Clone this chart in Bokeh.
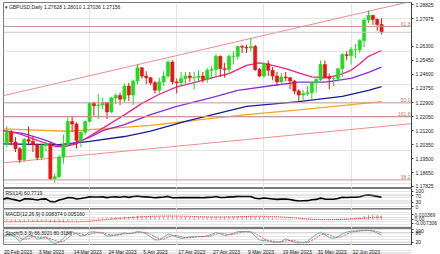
from bokeh.plotting import figure
from bokeh.layouts import column
from bokeh.models import (ColumnDataSource, LinearAxis, FixedTicker, Range1d, Label, Span,
                          NumeralTickFormatter)
from bokeh.core.properties import value
from bokeh.embed import file_html
from bokeh.resources import INLINE

FONT = "Liberation Sans"
FS = "5px"

# ---------------- data ----------------
open_ = [1.2030, 1.2040, 1.2110, 1.2050, 1.2010, 1.1943, 1.2066, 1.2055, 1.2035, 1.1955,
         1.2030, 1.2040, 1.1828, 1.1840, 1.1960, 1.2035, 1.2175, 1.2160, 1.2060, 1.2110,
         1.2175, 1.2285, 1.2270, 1.2275, 1.2290, 1.2233, 1.2318, 1.2333, 1.2310, 1.2390,
         1.2335, 1.2420, 1.2500, 1.2450, 1.2440, 1.2410, 1.2365, 1.2415, 1.2450, 1.2535,
         1.2415, 1.2410, 1.2435, 1.2450, 1.2440, 1.2442, 1.2450, 1.2430, 1.2485, 1.2490,
         1.2570, 1.2495, 1.2490, 1.2570, 1.2570, 1.2630, 1.2625, 1.2620, 1.2630, 1.2490,
         1.2450, 1.2525, 1.2485, 1.2450, 1.2415, 1.2445, 1.2440, 1.2420, 1.2360, 1.2335,
         1.2345, 1.2350, 1.2410, 1.2430, 1.2520, 1.2445, 1.2435, 1.2435, 1.2495, 1.2580,
         1.2575, 1.2610, 1.2610, 1.2665, 1.2790, 1.2818, 1.2793, 1.27628]
high = [1.2060, 1.2148, 1.2125, 1.2080, 1.2020, 1.2075, 1.2145, 1.2085, 1.2040, 1.2040,
        1.2055, 1.2045, 1.1860, 1.1970, 1.2095, 1.2200, 1.2205, 1.2170, 1.2115, 1.2180,
        1.2290, 1.2295, 1.2343, 1.2320, 1.2295, 1.2325, 1.2345, 1.2350, 1.2405, 1.2410,
        1.2430, 1.2525, 1.2505, 1.2480, 1.2445, 1.2420, 1.2440, 1.2480, 1.2545, 1.2545,
        1.2435, 1.2475, 1.2475, 1.2475, 1.2475, 1.2485, 1.2475, 1.2500, 1.2510, 1.2585,
        1.2575, 1.2530, 1.2580, 1.2600, 1.2635, 1.2640, 1.2640, 1.2680, 1.2640, 1.2500,
        1.2535, 1.2545, 1.2505, 1.2475, 1.2470, 1.2475, 1.2445, 1.2425, 1.2370, 1.2365,
        1.2390, 1.2410, 1.2445, 1.2545, 1.2545, 1.2465, 1.2445, 1.2490, 1.2590, 1.2600,
        1.2625, 1.2645, 1.2675, 1.2800, 1.2848, 1.2820, 1.2800, 1.28010]
low = [1.1995, 1.2018, 1.2030, 1.1990, 1.1923, 1.1930, 1.2030, 1.1990, 1.1940, 1.1940,
       1.1995, 1.1820, 1.1803, 1.1830, 1.1920, 1.2025, 1.2110, 1.2010, 1.2020, 1.2095,
       1.2170, 1.2210, 1.2190, 1.2250, 1.2190, 1.2225, 1.2280, 1.2275, 1.2290, 1.2300,
       1.2275, 1.2400, 1.2435, 1.2400, 1.2395, 1.2345, 1.2345, 1.2390, 1.2440, 1.2400,
       1.2345, 1.2395, 1.2395, 1.2415, 1.2368, 1.2415, 1.2410, 1.2410, 1.2430, 1.2445,
       1.2445, 1.2440, 1.2470, 1.2520, 1.2550, 1.2590, 1.2590, 1.2600, 1.2480, 1.2445,
       1.2440, 1.2450, 1.2425, 1.2390, 1.2410, 1.2420, 1.2370, 1.2340, 1.2300, 1.2300,
       1.2330, 1.2310, 1.2350, 1.2420, 1.2435, 1.2370, 1.2390, 1.2415, 1.2445, 1.2545,
       1.2520, 1.2560, 1.2590, 1.2625, 1.2770, 1.2760, 1.2725, 1.27036]
close = [1.2040, 1.2110, 1.2050, 1.2010, 1.1943, 1.2066, 1.2055, 1.2035, 1.1955, 1.2030,
         1.2040, 1.1828, 1.1840, 1.1960, 1.2035, 1.2175, 1.2160, 1.2060, 1.2110, 1.2175,
         1.2285, 1.2270, 1.2275, 1.2290, 1.2233, 1.2318, 1.2333, 1.2310, 1.2390, 1.2335,
         1.2420, 1.2500, 1.2450, 1.2440, 1.2410, 1.2365, 1.2415, 1.2450, 1.2535, 1.2415,
         1.2410, 1.2435, 1.2450, 1.2440, 1.2442, 1.2450, 1.2430, 1.2485, 1.2490, 1.2570,
         1.2495, 1.2490, 1.2570, 1.2570, 1.2630, 1.2625, 1.2620, 1.2630, 1.2490, 1.2450,
         1.2525, 1.2485, 1.2450, 1.2415, 1.2445, 1.2440, 1.2420, 1.2360, 1.2335, 1.2345,
         1.2350, 1.2410, 1.2430, 1.2520, 1.2445, 1.2435, 1.2435, 1.2495, 1.2580, 1.2575,
         1.2610, 1.2610, 1.2665, 1.2790, 1.2818, 1.2793, 1.2763, 1.27156]
n = len(close)
idx = list(range(n))

# moving averages (bar index, price)
ma_pink_x = [0, 4, 8, 12, 14, 17, 20, 24, 28, 32, 36, 40, 44, 48, 52, 56, 59, 62, 65, 68, 71, 74, 77, 80, 82, 84, 87]
ma_pink_y = [1.2122, 1.2100, 1.2060, 1.2025, 1.2022, 1.2040, 1.2085, 1.2150, 1.2215, 1.2285, 1.2340, 1.2385,
             1.2410, 1.2440, 1.2465, 1.2515, 1.2530, 1.2515, 1.2495, 1.2470, 1.2445, 1.2440, 1.2455, 1.2485,
             1.2525, 1.2570, 1.2605]
ma_purple_x = [0, 5, 10, 13, 16, 20, 23, 28, 34, 40, 48, 54, 62, 68, 74, 80, 84, 87]
ma_purple_y = [1.2120, 1.2102, 1.2060, 1.2029, 1.2041, 1.2078, 1.2120, 1.2156, 1.2217, 1.2266, 1.2320,
               1.2363, 1.2393, 1.2413, 1.2414, 1.2436, 1.2472, 1.2504]
ma_blue_x = [0, 13, 20, 28, 34, 42, 56, 68, 78, 84, 87]
ma_blue_y = [1.2040, 1.2034, 1.2054, 1.2084, 1.2116, 1.2175, 1.2266, 1.2296, 1.2327, 1.2363, 1.2387]
ma_orange_x = [0, 15, 34, 42, 45, 56, 68, 87]
ma_orange_y = [1.2131, 1.2116, 1.2151, 1.2175, 1.2185, 1.2217, 1.2246, 1.2296]

# channel (trend) lines, end points (bar index, price)
trend_up_x = [0, 93]
trend_up_y = [1.2330, 1.2898]
trend_lo_x = [0, 94]
trend_lo_y = [1.1924, 1.2162]

# fibonacci levels
fib_values = [1.2751, 1.2288, 1.2205, 1.1821]
fib_labels = ["61.8", "50.0", "161.8", "38.2"]

price_ticks = [1.28825, 1.27975, 1.26300, 1.25450, 1.24600, 1.23750, 1.22900, 1.22050,
               1.21200, 1.20350, 1.19500, 1.18650, 1.17825]

rsi = [46, 55, 49, 44, 37, 50, 50, 48, 43, 49,
       50, 33, 31, 43, 49, 58, 57, 50, 53, 57,
       63, 62, 62, 63, 58, 62, 63, 61, 65, 60,
       65, 69, 64, 63, 61, 57, 60, 62, 66, 57,
       57, 58, 59, 58, 58, 59, 57, 60, 61, 65,
       59, 59, 63, 63, 66, 65, 65, 65, 54, 51,
       56, 53, 50, 47, 49, 49, 46, 41, 37, 38,
       39, 45, 47, 55, 49, 48, 48, 53, 60, 59,
       61, 61, 64, 72, 75, 71, 66, 60.77]
rsi_levels = [70, 30]

macd = [-0.0052, -0.0044, -0.0042, -0.0043, -0.0050, -0.0041, -0.0035, -0.0033, -0.0038, -0.0035,
        -0.0032, -0.0055, -0.0073, -0.0068, -0.0058, -0.0040, -0.0028, -0.0025, -0.0018, -0.0008,
        0.0008, 0.0019, 0.0028, 0.0036, 0.0038, 0.0045, 0.0051, 0.0053, 0.0060, 0.0061,
        0.0067, 0.0077, 0.0079, 0.0079, 0.0076, 0.0070, 0.0068, 0.0068, 0.0074, 0.0068,
        0.0063, 0.0060, 0.0058, 0.0055, 0.0053, 0.0051, 0.0048, 0.0050, 0.0051, 0.0058,
        0.0057, 0.0055, 0.0060, 0.0063, 0.0070, 0.0074, 0.0076, 0.0078, 0.0068, 0.0057,
        0.0053, 0.0046, 0.0037, 0.0028, 0.0023, 0.0018, 0.0012, 0.0003, -0.0005, -0.0010,
        -0.0013, -0.0011, -0.0007, 0.0003, 0.0004, 0.0004, 0.0004, 0.0009, 0.0019, 0.0026,
        0.0033, 0.0038, 0.0046, 0.0075, 0.0094, 0.010369, 0.0097, 0.008374]
macd_signal = [-0.0050, -0.0050, -0.0049, -0.0048, -0.0048, -0.0047, -0.0045, -0.0043, -0.0041, -0.0040,
               -0.0038, -0.0039, -0.0042, -0.0046, -0.0048, -0.0049, -0.0049, -0.0048, -0.0046, -0.0041,
               -0.0034, -0.0026, -0.0017, -0.0008, 0.0000, 0.0009, 0.0017, 0.0025, 0.0032, 0.0039,
               0.0045, 0.0052, 0.0057, 0.0062, 0.0066, 0.0069, 0.0070, 0.0071, 0.0072, 0.0072,
               0.0071, 0.0069, 0.0067, 0.0065, 0.0063, 0.0061, 0.0058, 0.0056, 0.0054, 0.0054,
               0.0054, 0.0054, 0.0055, 0.0056, 0.0058, 0.0060, 0.0062, 0.0065, 0.0067, 0.0067,
               0.0066, 0.0064, 0.0061, 0.0057, 0.0053, 0.0047, 0.0041, 0.0034, 0.0026, 0.0018,
               0.0011, 0.0005, 0.0001, -0.0002, -0.0003, -0.0003, -0.0002, 0.0000, 0.0003, 0.0007,
               0.0011, 0.0016, 0.0021, 0.0027, 0.0035, 0.0043, 0.0048, 0.00516]
macd_ticks = [0.010369, 0.0, -0.007306]
macd_tick_labels = ["0.010369", "0.00", "-0.007306"]

stoch_k = [55, 70, 68, 50, 25, 45, 60, 62, 40, 45,
           55, 30, 12, 20, 45, 75, 88, 75, 60, 65,
           85, 88, 82, 78, 60, 62, 70, 72, 80, 75,
           80, 90, 85, 75, 55, 35, 35, 50, 72, 65,
           55, 45, 48, 55, 55, 58, 55, 62, 70, 85,
           75, 62, 70, 78, 88, 90, 88, 85, 60, 35,
           30, 28, 22, 18, 25, 42, 30, 20, 15, 18,
           25, 50, 70, 85, 70, 50, 45, 55, 75, 85,
           92, 92, 95, 97, 97, 92, 80, 66.3021]
stoch_d = [58, 62, 64, 63, 48, 40, 43, 56, 54, 49,
           47, 43, 32, 21, 26, 47, 69, 79, 74, 67,
           70, 79, 85, 83, 73, 67, 64, 68, 74, 76,
           78, 82, 85, 83, 72, 55, 42, 40, 52, 62,
           64, 55, 49, 49, 53, 56, 56, 58, 62, 72,
           77, 74, 69, 70, 79, 85, 89, 88, 78, 60,
           42, 31, 27, 23, 22, 28, 32, 31, 22, 18,
           19, 31, 48, 68, 75, 68, 55, 50, 58, 72,
           84, 90, 93, 95, 96, 95, 90, 80.3189]
stoch_levels = [80, 20]

date_tick_idx = [0, 8, 16, 24, 32, 40, 48, 56, 64, 72, 80]
date_tick_labels = ["20 Feb 2023", "3 Mar 2023", "14 Mar 2023", "24 Mar 2023", "5 Apr 2023",
                    "17 Apr 2023", "27 Apr 2023", "9 May 2023", "19 May 2023", "31 May 2023",
                    "12 Jun 2023"]

title_text = "\u25BE GBPUSD,Daily 1.27628 1.28010 1.27036 1.27156"
rsi_text = "RSI(14) 60.7719"
macd_text = "MACD(12,26,9) 0.008374 0.005160"
stoch_text = "Stoch(5,3,3) 66.3021 80.3189"

# ---------------- styling ----------------
BULL = "#1EDC1E"
BEAR = "#EA1414"
AXC = "#404040"

xr = Range1d(0.25, 93.87)


def base_fig(height, yr, top, bottom, outline="#7A7A7A"):
    p = figure(width=440, height=height, x_range=xr, y_range=Range1d(*yr),
               output_backend="svg", toolbar_location=None,
               x_axis_location=None, y_axis_location=None,
               min_border_left=3, min_border_right=26,
               min_border_top=top, min_border_bottom=bottom,
               background_fill_color="white", border_fill_color="white")
    p.outline_line_color = outline
    p.outline_line_width = 1
    return p


def right_axis(p, ticks, formatter=None, overrides=None, standoff=2):
    ax = LinearAxis(ticker=FixedTicker(ticks=ticks),
                    major_label_text_font=FONT, major_label_text_font_size=FS,
                    major_label_text_color="#202020",
                    major_tick_out=2, major_tick_in=0, minor_tick_out=0, minor_tick_in=0,
                    major_label_standoff=standoff, axis_line_color=AXC,
                    major_tick_line_color=AXC)
    if formatter is not None:
        ax.formatter = formatter
    if overrides is not None:
        ax.major_label_overrides = overrides
    p.add_layout(ax, "right")
    return ax


def panel_label(p, text, yr_end):
    p.add_layout(Label(x=xr.start, y=yr_end, x_offset=2, y_offset=-1.5, text=text,
                       text_font=FONT, text_font_size=FS, text_color="#202020",
                       text_align="left", text_baseline="top"))


# ---------------- main price panel ----------------
main_yr = (1.1769, 1.2896)
pm = base_fig(188, main_yr, 2, 0)
right_axis(pm, price_ticks, formatter=NumeralTickFormatter(format="0.00000"))

for lvl, txt in zip(fib_values, fib_labels):
    pm.add_layout(Span(location=lvl, dimension="width", line_color="#C89494", line_width=1))
    pm.add_layout(Label(x=xr.end, y=lvl, x_offset=-1, y_offset=0.5, text=txt,
                        text_font=FONT, text_font_size=FS, text_color="#C07878",
                        text_align="right", text_baseline="bottom"))

pm.add_layout(Span(location=close[-1], dimension="width", line_color="#C8C8C8", line_width=1))

pm.line(trend_up_x, trend_up_y, line_color="#F08C8C", line_width=1)
pm.line(trend_lo_x, trend_lo_y, line_color="#F08C8C", line_width=1)

pm.line(ma_orange_x, ma_orange_y, line_color="#F5A623", line_width=1.3)
pm.line(ma_blue_x, ma_blue_y, line_color="#1A1AA0", line_width=1.3)
pm.line(ma_purple_x, ma_purple_y, line_color="#8A2BE2", line_width=1.3)
pm.line(ma_pink_x, ma_pink_y, line_color="#F0208C", line_width=1.3)


def candle_source(sel):
    return ColumnDataSource(dict(
        x=[idx[i] for i in sel],
        h=[high[i] for i in sel],
        l=[low[i] for i in sel],
        top=[max(open_[i], close[i]) for i in sel],
        bottom=[min(open_[i], close[i]) for i in sel],
    ))


up = [i for i in idx if close[i] >= open_[i]]
dn = [i for i in idx if close[i] < open_[i]]
for sel, col in ((up, BULL), (dn, BEAR)):
    s = candle_source(sel)
    pm.segment(x0="x", y0="l", x1="x", y1="h", source=s, line_color=col, line_width=1)
    pm.vbar(x="x", width=0.72, top="top", bottom="bottom", source=s,
            fill_color=col, line_color=col, line_width=0.6)

pm.add_layout(Label(x=xr.start, y=main_yr[1], x_offset=1, y_offset=-1, text=title_text,
                    text_font=FONT, text_font_size=FS, text_color="#202020",
                    text_align="left", text_baseline="top"))
pm.add_layout(Label(x=xr.end, y=close[-1], x_offset=1, text=f"{close[-1]:.5f}",
                    text_font=FONT, text_font_size=FS, text_color="white",
                    background_fill_color="black", text_align="left",
                    text_baseline="middle"))

# ---------------- RSI ----------------
rsi_yr = (-17, 116)
pr = base_fig(21, rsi_yr, 0, 0)
right_axis(pr, [100, 70, 30, 0])
for lv in rsi_levels:
    pr.add_layout(Span(location=lv, dimension="width", line_color="#B4B4B4",
                       line_width=1, line_dash="1 1"))
pr.line(idx, rsi, line_color="black", line_width=1.6)
panel_label(pr, rsi_text, rsi_yr[1])

# ---------------- MACD ----------------
macd_yr = (-0.01875, 0.02083)
pmacd = base_fig(19, macd_yr, 0, 0)
right_axis(pmacd, macd_ticks, overrides=dict(zip(macd_ticks, macd_tick_labels)), standoff=1)
pmacd.segment(x0=idx, y0=[0] * n, x1=idx, y1=macd, line_color="#E08A8A", line_width=1)
pmacd.line(idx, macd_signal, line_color="#FF2020", line_width=1, line_dash="1 1")
panel_label(pmacd, macd_text, macd_yr[1])

# ---------------- Stochastic ----------------
st_yr = (-1.3, 109)
ps = base_fig(17, st_yr, 0, 0)
right_axis(ps, [100, 80, 20])
for lv in stoch_levels:
    ps.add_layout(Span(location=lv, dimension="width", line_color="#B4B4B4",
                       line_width=1, line_dash="1 1"))
ps.line(idx, stoch_k, line_color="#5FB0A8", line_width=1)
ps.line(idx, stoch_d, line_color="#D06060", line_width=1, line_dash="2 1")
panel_label(ps, stoch_text, st_yr[1])

# ---------------- date strip ----------------
pd_ = base_fig(9, (0, 1), 0, 0, outline=None)
pd_.text(x=date_tick_idx, y=[0.62] * len(date_tick_idx), text=date_tick_labels,
         x_offset=1.5, text_font=value(FONT), text_font_size=FS, text_color="#202020",
         text_align="left", text_baseline="middle")

layout = column(pm, pr, pmacd, ps, pd_, spacing=0)
open("out.html", "w").write(file_html(layout, INLINE))
